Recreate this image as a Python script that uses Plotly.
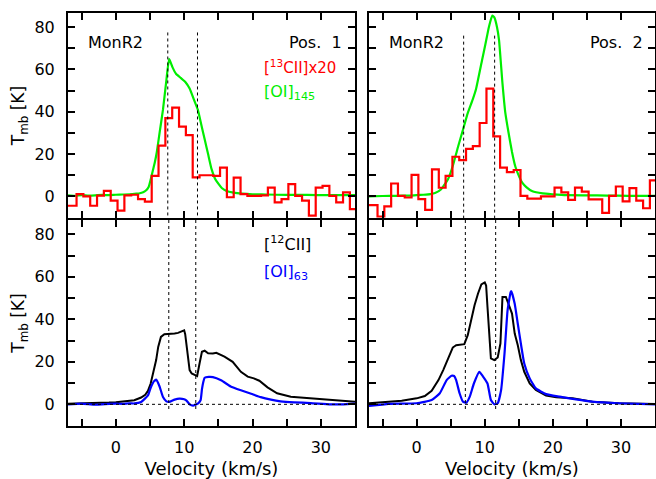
import plotly.graph_objects as go

# ---------------- data ----------------
# channel centres of the [13CII] spectra (km/s)
chan_13c = [-7.25, -6.25, -5.25, -4.25, -3.25, -2.25, -1.25, -0.25, 0.75, 1.75, 2.75,
            3.75, 4.75, 5.75, 6.75, 7.75, 8.75, 9.75, 10.75, 11.75, 12.75, 13.75,
            14.75, 15.75, 16.75, 17.75, 18.75, 19.75, 20.75, 21.75, 22.75, 23.75,
            24.75, 25.75, 26.75, 27.75, 28.75, 29.75, 30.75, 31.75, 32.75, 33.75,
            34.75, 35.75]
c13_pos1 = [-4.4, -4.4, 1.1, 0.0, -4.4, 0.4, 2.6, -2.0, -6.7, 0.5, 0.8,
            -1.3, -2.5, 9.7, 24, 37, 42, 33, 29, 9, 10, 10,
            9.7, 13.6, -0.4, 8.9, 1.1, 0.3, 0.3, 0.5, 4.2, -2.8,
            -1.3, 5.8, 0.3, -2.0, -9.1, 4.2, 5.0, 0.3, -2.8, 1.9,
            -6.0, -6.0]
c13_pos2 = [-4.1, -4.1, -9.5, -4.7, 6.1, 0.3, -0.5, 10.2, -1.25, -6.4, 12.8,
            4.1, 9.7, 18.75, 17.2, 22.5, 23.75, 34.7, 51, 28.4, 13.6, 11.5,
            12.5, 0.3, -1.0, -1.0, 0.0, 0.0, 4.2, 1.9, -1.6, 4.2,
            2.3, -1.4, -1.4, -7.8, 0.3, 4.7, -2.3, 3.9, -2.0, -5.6,
            7.6, 7.6]

# [OI]145
v_oi145_p1 = [-7, -6, -5, -4, -3, -2, -1, 0, 1, 2, 3, 3.5, 4.0, 4.4, 4.8, 5.1, 5.4, 5.7,
              6.0, 6.4, 6.9, 7.4, 7.8, 8.3, 8.8, 9.5, 10.2, 10.8, 11.4, 12.0, 12.5, 13.0,
              13.5, 14.0, 14.5, 15.0, 15.5, 16.2, 17.2, 18.5, 20, 22, 25, 28, 31, 35]
t_oi145_p1 = [0.5, 0.3, 0.6, 0.4, 0.5, 0.7, 0.6, 0.8, 0.9, 1.0, 1.3, 1.5, 2.0, 2.8, 4.5, 8, 12, 16,
              21, 30, 41, 55, 65, 61, 58, 56, 54, 51, 46, 41, 34, 27,
              20, 13, 8.5, 6, 4, 2.6, 1.8, 1.3, 1.0, 0.9, 0.7, 0.7, 0.6, 0.6]
v_oi145_p2 = [-7, -5, -3, -1, 0, 1, 2, 2.7, 3.6, 4.6, 5.3, 6.1, 6.8, 7.5, 8.25, 8.7, 9.6,
              10.1, 10.6, 11.1, 11.4, 11.8, 12.1, 12.6, 13.0, 13.5, 14.0, 14.5, 15.1, 15.5,
              16.1, 17.0, 18.5, 20, 22, 25, 28, 31, 35]
t_oi145_p2 = [0.0, 0.2, 0.3, 0.4, 0.6, 0.8, 1.1, 1.6, 3.4, 8.1, 14.4, 23.7, 31.5, 39.4, 46, 50.5, 64.4,
              72, 80, 85.5, 84.6, 80, 73.8, 53.4, 40, 30, 21, 14, 9, 6.5,
              4.4, 2.4, 1.4, 1.0, 0.6, 0.5, 0.4, 0.3, 0.3]

# [12CII]
v_c12_p1 = [-7, -5, -3, -1, 0, 1, 2, 2.7, 3.7, 4.3, 4.7, 5.1, 5.5, 5.9, 6.2, 6.6, 7.1, 7.6,
            8.1, 8.6, 9.1, 9.6, 10.0, 10.15, 10.3, 10.5, 10.8, 11.1, 11.5, 11.9, 12.25, 12.6,
            13.0, 13.5, 14.2, 14.7, 15.9, 17.1, 18.3, 19.3, 20.2, 21.0, 22.2, 23.6, 25.6,
            27.5, 30, 32.4, 35]
t_c12_p1 = [0.3, 0.4, 0.5, 0.8, 1.0, 1.3, 1.6, 1.9, 3.2, 4.5, 6.3, 9.8, 15.3, 20.8, 27, 31.7, 33.0, 33.0,
            33.2, 33.3, 33.6, 34.4, 34.8, 33.0, 28.6, 23.9, 16.1, 14.5, 13.7, 13.3, 19.2, 24.7,
            25.2, 24.0, 23.9, 24.2, 22.4, 20.0, 15.3, 13.0, 12.2, 11.1, 8.0, 5.2, 3.6,
            3.1, 2.3, 2.0, 1.2]
v_c12_p2 = [-7, -4.1, -2.2, 0, 1.2, 2.2, 3.2, 3.9, 4.6, 5.3, 5.8, 7.0, 7.5, 8.0, 8.5, 9.0, 9.5,
            10.0, 10.2, 10.4, 10.7, 10.9, 11.4, 11.9, 12.3, 12.6, 13.1, 13.6, 14.0, 14.4, 14.85,
            15.3, 15.8, 16.6, 17.5, 19.0, 20.5, 22.9, 25.8, 29.7, 35]
t_c12_p2 = [0.5, 1.1, 1.7, 2.8, 3.9, 6.4, 11.4, 16.1, 21.6, 26.7, 27.8, 28.3, 32.5, 39.5, 46.6, 52, 56.4,
            57.3, 55.9, 45.8, 31.7, 21.6, 20.8, 22, 28.6, 50.5, 50.5, 46.6, 42.7, 33.3, 27.8,
            20.8, 15.3, 9.8, 6.7, 4.1, 3.3, 2.8, 1.25, 0.5, 0.2]

# [OI]63
v_oi63_p1 = [-7, -5, -3, -1, 0, 1, 2, 2.7, 3.7, 4.7, 5.1, 5.6, 5.9, 6.4, 6.9, 7.4, 7.8, 8.6, 9.3,
             10.0, 10.3, 10.8, 11.3, 12.0, 12.4, 12.6, 12.8, 13.0, 13.6, 14.2, 15.4, 16.8, 18.3,
             19.8, 21.2, 22.7, 24.1, 26.1, 28.5, 31.4, 33.3, 35]
t_oi63_p1 = [0.0, 0.3, -0.2, 0.2, 0.3, 0.2, 0.5, 0.4, 1.1, 4.2, 7.8, 10.9, 11.6, 8.4, 3.4, 1.4, 1.1, 2.2, 2.7,
             2.4, 1.9, 0.0, -0.6, 0.3, 1.9, 7, 10.5, 12.5, 12.9, 12.8, 11.3, 8.4, 6.6,
             5.0, 3.4, 2.2, 1.4, 0.9, 0.6, 0.0, 0.0, 0.3]
v_oi63_p2 = [-7, -4.1, 0, 2.2, 3.4, 4.4, 5.1, 5.5, 5.8, 6.3, 6.8, 7.3, 7.8, 8.4, 9.2, 9.7, 10.4,
             10.9, 11.4, 11.9, 12.4, 12.9, 13.35, 13.8, 13.9, 14.4, 14.85, 15.3, 15.8, 16.6, 17.5,
             19.0, 21.0, 23.4, 25.8, 29.7, 35]
t_oi63_p2 = [-0.8, 0.2, 0.5, 2.0, 5.2, 11.4, 13.4, 13.3, 11.4, 5.2, 1.25, 0.8, 3.6, 9.8, 15.3, 13.3, 9.8,
             2.0, 0.0, 0.5, 6.7, 23.9, 44.2, 52.8, 53.3, 47.3, 37.9, 28.6, 19.2, 12.2, 7.5,
             4.8, 3.6, 2.3, 1.25, 0.5, 0.0]

# velocity markers (dotted lines)
vmark_p1_top = [7.6, 11.95]
vmark_p1_bot = [7.75, 11.7]
vmark_p2_top = [6.9, 11.45]
vmark_p2_bot = [7.15, 11.6]

x_range = [-7, 35]
y_range = [-10.2, 86.7]

RED = "#ff0000"
GREEN = "#00ee00"
BLUE = "#0000ff"
FONT = "DejaVu Sans"
LW = 2

W, H = 656, 479
fig = go.Figure()

# traces
fig.add_trace(go.Scatter(x=v_oi145_p1, y=t_oi145_p1, mode="lines", line=dict(color=GREEN, width=2.2, shape="spline", smoothing=0.4), xaxis="x", yaxis="y"))
fig.add_trace(go.Scatter(x=chan_13c, y=c13_pos1, mode="lines", line=dict(color=RED, width=2.2, shape="hvh"), xaxis="x", yaxis="y"))
fig.add_trace(go.Scatter(x=v_oi145_p2, y=t_oi145_p2, mode="lines", line=dict(color=GREEN, width=2.2, shape="spline", smoothing=0.4), xaxis="x2", yaxis="y2"))
fig.add_trace(go.Scatter(x=chan_13c, y=c13_pos2, mode="lines", line=dict(color=RED, width=2.2, shape="hvh"), xaxis="x2", yaxis="y2"))
fig.add_trace(go.Scatter(x=v_c12_p1, y=t_c12_p1, mode="lines", line=dict(color="black", width=2), xaxis="x3", yaxis="y3"))
fig.add_trace(go.Scatter(x=v_oi63_p1, y=t_oi63_p1, mode="lines", line=dict(color=BLUE, width=2.2, shape="spline", smoothing=0.4), xaxis="x3", yaxis="y3"))
fig.add_trace(go.Scatter(x=v_c12_p2, y=t_c12_p2, mode="lines", line=dict(color="black", width=2), xaxis="x4", yaxis="y4"))
fig.add_trace(go.Scatter(x=v_oi63_p2, y=t_oi63_p2, mode="lines", line=dict(color=BLUE, width=2.2, shape="spline", smoothing=0.4), xaxis="x4", yaxis="y4"))

# domains (pixel based); shared border between the rows drawn once
xl = [68 / W, 355 / W]
xr = [369 / W, 655 / W]
yt = [1 - (219 - LW / 2) / H, 1 - 13 / H]
yb = [1 - 426 / H, 1 - (219 + LW / 2) / H]

tickfont = dict(family=FONT, size=16, color="black")


def xax(domain, anchor, labels, title=None):
    d = dict(domain=domain, anchor=anchor, range=x_range, showline=True, linecolor="black",
             linewidth=LW, mirror="ticks", ticks="inside", ticklen=7, tickwidth=1.5,
             tickcolor="black", tick0=0, dtick=10, showgrid=False, zeroline=False,
             showticklabels=labels, tickfont=tickfont, ticklabelstandoff=6,
             minor=dict(dtick=5, tick0=0, ticks="inside", ticklen=7, tickwidth=1.5,
                        tickcolor="black", showgrid=False))
    if title:
        d["title"] = dict(text=title, font=dict(family=FONT, size=18, color="black"), standoff=8)
    return d


def yax(domain, anchor, labels, title=None):
    d = dict(domain=domain, anchor=anchor, range=y_range, showline=True, linecolor="black",
             linewidth=LW, mirror="ticks", ticks="inside", ticklen=7, tickwidth=1.5,
             tickcolor="black", tick0=0, dtick=20, showgrid=False, zeroline=False,
             showticklabels=labels, tickfont=tickfont, ticklabelstandoff=8,
             minor=dict(dtick=10, tick0=0, ticks="inside", ticklen=7, tickwidth=1.5,
                        tickcolor="black", showgrid=False))
    if title:
        d["title"] = dict(text=title, font=dict(family=FONT, size=17, color="black"), standoff=5)
    return d


fig.update_layout(
    width=W, height=H, margin=dict(l=0, r=0, t=0, b=0),
    paper_bgcolor="white", plot_bgcolor="white", showlegend=False,
    xaxis=xax(xl, "y", False), yaxis=yax(yt, "x", True, "T<sub>mb</sub> [K]"),
    xaxis2=xax(xr, "y2", False), yaxis2=yax(yt, "x2", False),
    xaxis3=xax(xl, "y3", True, "Velocity (km/s)"), yaxis3=yax(yb, "x3", True, "T<sub>mb</sub> [K]"),
    xaxis4=xax(xr, "y4", True, "Velocity (km/s)"), yaxis4=yax(yb, "x4", False),
)

# dotted marker lines
dot = dict(color="black", width=1, dash="dot")
shapes = []
for v in vmark_p1_top:
    shapes.append(dict(type="line", xref="x", yref="y", x0=v, x1=v, y0=77.5, y1=y_range[0], line=dot))
for v in vmark_p2_top:
    shapes.append(dict(type="line", xref="x2", yref="y2", x0=v, x1=v, y0=76, y1=y_range[0], line=dot))
for v in vmark_p1_bot:
    shapes.append(dict(type="line", xref="x3", yref="y3", x0=v, x1=v, y0=y_range[1], y1=-3.5, line=dot))
for v in vmark_p2_bot:
    shapes.append(dict(type="line", xref="x4", yref="y4", x0=v, x1=v, y0=y_range[1], y1=-3.5, line=dot))
shapes.append(dict(type="line", xref="x3", yref="y3", x0=x_range[0], x1=x_range[1], y0=0, y1=0, line=dot))
shapes.append(dict(type="line", xref="x4", yref="y4", x0=x_range[0], x1=x_range[1], y0=0, y1=0, line=dot))
fig.update_layout(shapes=shapes)


def ann(text, px, py, anchor, color="black", size=16):
    return dict(text=text, x=px / W, y=1 - py / H, xref="paper", yref="paper",
                xanchor=anchor, yanchor="middle", showarrow=False,
                font=dict(family=FONT, size=size, color=color))


fig.update_layout(annotations=[
    ann("MonR2", 86, 43, "left"),
    ann("Pos.  1", 344, 43, "right"),
    ann("[<sup>13</sup>CII]x20", 262, 67, "left", RED, 15),
    ann("[OI]<sub>145</sub>", 262, 92, "left", GREEN),
    ann("MonR2", 387, 43, "left"),
    ann("Pos.  2", 645, 43, "right"),
    ann("[<sup>12</sup>CII]", 262, 243, "left"),
    ann("[OI]<sub>63</sub>", 262, 272, "left", BLUE),
])

fig.write_html("out.html")
